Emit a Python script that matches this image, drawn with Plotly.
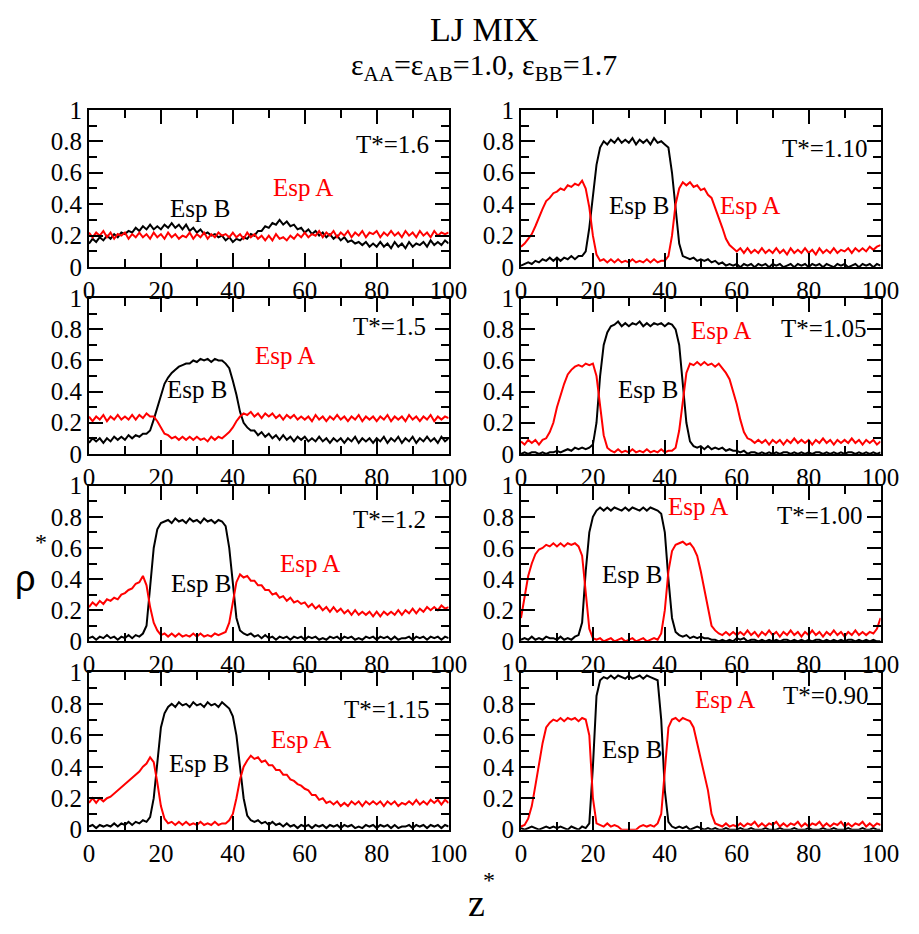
import plotly.graph_objects as go

# Density profiles rho*(z*) of species A and B in the LJ mixture, one panel per temperature
z = list(range(101))

temperatures = ["1.6", "1.5", "1.2", "1.15", "1.10", "1.05", "1.00", "0.90"]

rho_B_160 = [0.15,0.18,0.16,0.19,0.17,0.20,0.18,0.21,0.19,0.22,
             0.21,0.23,0.22,0.25,0.23,0.26,0.24,0.27,0.24,0.26,
             0.24,0.27,0.25,0.28,0.25,0.27,0.24,0.27,0.23,0.25,
             0.22,0.24,0.21,0.22,0.20,0.21,0.19,0.20,0.17,0.19,
             0.16,0.18,0.17,0.19,0.18,0.21,0.20,0.23,0.23,0.26,
             0.25,0.28,0.27,0.30,0.27,0.29,0.26,0.27,0.24,0.25,
             0.22,0.24,0.21,0.23,0.20,0.22,0.19,0.21,0.18,0.20,
             0.17,0.19,0.16,0.17,0.15,0.16,0.14,0.16,0.13,0.15,
             0.13,0.16,0.13,0.15,0.12,0.16,0.13,0.15,0.12,0.16,
             0.13,0.15,0.14,0.16,0.13,0.17,0.14,0.16,0.14,0.17,
             0.15]
rho_A_160 = [0.22,0.19,0.22,0.20,0.23,0.19,0.22,0.18,0.21,0.20,
             0.22,0.18,0.21,0.19,0.22,0.19,0.21,0.18,0.22,0.19,
             0.21,0.18,0.22,0.19,0.21,0.18,0.20,0.19,0.22,0.18,
             0.21,0.19,0.22,0.18,0.21,0.19,0.22,0.20,0.21,0.19,
             0.22,0.19,0.21,0.18,0.22,0.19,0.21,0.18,0.20,0.17,
             0.20,0.17,0.21,0.18,0.19,0.17,0.20,0.18,0.21,0.19,
             0.22,0.19,0.21,0.20,0.23,0.19,0.22,0.20,0.23,0.19,
             0.22,0.20,0.23,0.19,0.22,0.20,0.23,0.19,0.22,0.21,
             0.23,0.19,0.22,0.20,0.23,0.20,0.22,0.19,0.23,0.20,
             0.22,0.19,0.23,0.20,0.22,0.19,0.23,0.20,0.22,0.21,
             0.22]

rho_B_150 = [0.07,0.10,0.08,0.10,0.07,0.10,0.08,0.11,0.09,0.11,
             0.09,0.12,0.10,0.12,0.11,0.13,0.13,0.15,0.22,0.30,
             0.38,0.45,0.49,0.52,0.54,0.56,0.57,0.58,0.58,0.60,
             0.59,0.61,0.60,0.61,0.59,0.61,0.60,0.60,0.58,0.55,
             0.47,0.38,0.27,0.20,0.17,0.15,0.15,0.12,0.14,0.11,
             0.13,0.10,0.12,0.09,0.12,0.09,0.11,0.08,0.11,0.09,
             0.11,0.08,0.10,0.08,0.11,0.08,0.10,0.07,0.10,0.08,
             0.10,0.07,0.10,0.08,0.11,0.07,0.10,0.08,0.10,0.07,
             0.10,0.08,0.11,0.07,0.10,0.08,0.11,0.07,0.10,0.08,
             0.11,0.07,0.10,0.08,0.11,0.08,0.10,0.07,0.11,0.08,
             0.10]
rho_A_150 = [0.24,0.21,0.24,0.22,0.25,0.21,0.24,0.22,0.25,0.22,
             0.24,0.22,0.25,0.22,0.25,0.23,0.26,0.24,0.24,0.21,
             0.17,0.13,0.12,0.10,0.11,0.09,0.11,0.09,0.11,0.09,
             0.11,0.09,0.10,0.08,0.11,0.09,0.11,0.10,0.12,0.14,
             0.17,0.21,0.24,0.26,0.25,0.27,0.24,0.26,0.23,0.26,
             0.24,0.26,0.23,0.25,0.22,0.25,0.23,0.25,0.22,0.24,
             0.22,0.24,0.21,0.25,0.22,0.24,0.21,0.24,0.22,0.25,
             0.22,0.24,0.21,0.24,0.22,0.25,0.21,0.24,0.22,0.24,
             0.21,0.24,0.22,0.25,0.21,0.24,0.22,0.24,0.21,0.25,
             0.22,0.24,0.21,0.24,0.22,0.25,0.21,0.24,0.22,0.24,
             0.23]

rho_B_120 = [0.02,0.03,0.01,0.03,0.02,0.04,0.02,0.03,0.01,0.03,
             0.02,0.04,0.02,0.04,0.03,0.05,0.10,0.35,0.60,0.72,
             0.76,0.77,0.78,0.76,0.79,0.77,0.78,0.76,0.79,0.77,
             0.78,0.76,0.79,0.77,0.78,0.76,0.78,0.77,0.74,0.60,
             0.35,0.15,0.07,0.05,0.04,0.05,0.03,0.04,0.02,0.04,
             0.02,0.03,0.01,0.03,0.02,0.03,0.01,0.03,0.02,0.03,
             0.01,0.03,0.02,0.03,0.01,0.02,0.01,0.03,0.02,0.03,
             0.01,0.03,0.02,0.03,0.01,0.02,0.01,0.03,0.02,0.03,
             0.01,0.03,0.02,0.03,0.01,0.03,0.01,0.02,0.02,0.03,
             0.01,0.03,0.02,0.03,0.01,0.03,0.02,0.03,0.01,0.03,
             0.02]
rho_A_120 = [0.22,0.25,0.23,0.26,0.24,0.27,0.26,0.28,0.27,0.30,
             0.31,0.33,0.34,0.37,0.38,0.42,0.36,0.22,0.12,0.07,
             0.04,0.05,0.03,0.05,0.03,0.05,0.03,0.04,0.03,0.05,
             0.03,0.05,0.03,0.04,0.03,0.05,0.04,0.05,0.06,0.12,
             0.25,0.38,0.43,0.41,0.42,0.39,0.39,0.36,0.36,0.33,
             0.33,0.30,0.31,0.28,0.29,0.26,0.28,0.25,0.26,0.24,
             0.25,0.22,0.24,0.21,0.23,0.20,0.22,0.19,0.22,0.19,
             0.21,0.18,0.20,0.17,0.20,0.17,0.19,0.17,0.19,0.16,
             0.19,0.16,0.19,0.17,0.19,0.17,0.20,0.17,0.20,0.18,
             0.21,0.18,0.21,0.19,0.22,0.20,0.22,0.20,0.23,0.21,
             0.22]

rho_B_115 = [0.02,0.03,0.01,0.03,0.02,0.03,0.02,0.04,0.02,0.04,
             0.03,0.05,0.03,0.05,0.04,0.06,0.05,0.08,0.20,0.45,
             0.65,0.74,0.78,0.80,0.78,0.81,0.79,0.80,0.78,0.81,
             0.79,0.80,0.78,0.81,0.79,0.80,0.78,0.81,0.79,0.77,
             0.72,0.60,0.40,0.20,0.09,0.06,0.05,0.06,0.04,0.05,
             0.03,0.05,0.03,0.04,0.02,0.04,0.02,0.03,0.01,0.03,
             0.02,0.03,0.01,0.03,0.02,0.03,0.01,0.03,0.02,0.03,
             0.01,0.03,0.02,0.03,0.01,0.02,0.01,0.03,0.02,0.03,
             0.01,0.03,0.02,0.03,0.01,0.03,0.01,0.02,0.02,0.03,
             0.01,0.03,0.02,0.03,0.01,0.03,0.02,0.03,0.01,0.03,
             0.02]
rho_A_115 = [0.17,0.20,0.17,0.20,0.18,0.20,0.21,0.23,0.25,0.27,
             0.29,0.31,0.33,0.35,0.37,0.40,0.42,0.46,0.43,0.30,
             0.15,0.07,0.04,0.05,0.03,0.05,0.03,0.05,0.03,0.04,
             0.03,0.05,0.03,0.04,0.03,0.05,0.03,0.04,0.04,0.06,
             0.10,0.20,0.32,0.40,0.44,0.47,0.45,0.46,0.43,0.44,
             0.41,0.41,0.38,0.38,0.35,0.35,0.32,0.31,0.29,0.28,
             0.26,0.25,0.22,0.22,0.19,0.20,0.17,0.18,0.16,0.18,
             0.15,0.17,0.15,0.18,0.16,0.18,0.15,0.18,0.16,0.18,
             0.16,0.18,0.15,0.18,0.16,0.18,0.15,0.17,0.16,0.18,
             0.16,0.19,0.16,0.18,0.16,0.19,0.17,0.19,0.16,0.19,
             0.17]

rho_B_110 = [0.01,0.02,0.03,0.02,0.04,0.03,0.05,0.04,0.06,0.04,
             0.06,0.04,0.06,0.05,0.07,0.05,0.07,0.07,0.10,0.25,
             0.45,0.65,0.76,0.80,0.78,0.81,0.79,0.82,0.79,0.81,
             0.79,0.82,0.78,0.81,0.79,0.81,0.78,0.82,0.79,0.80,
             0.78,0.76,0.60,0.35,0.15,0.07,0.06,0.05,0.06,0.04,
             0.05,0.04,0.05,0.03,0.04,0.02,0.03,0.01,0.02,0.01,
             0.02,0.00,0.02,0.01,0.02,0.00,0.02,0.01,0.02,0.00,
             0.02,0.01,0.02,0.00,0.01,0.02,0.00,0.02,0.01,0.02,
             0.00,0.02,0.01,0.02,0.00,0.02,0.01,0.00,0.02,0.01,
             0.02,0.00,0.01,0.02,0.00,0.02,0.01,0.02,0.00,0.02,
             0.01]
rho_A_110 = [0.13,0.15,0.18,0.21,0.26,0.32,0.37,0.42,0.44,0.47,
             0.48,0.50,0.49,0.52,0.51,0.53,0.52,0.55,0.50,0.38,
             0.20,0.08,0.04,0.05,0.03,0.05,0.03,0.05,0.03,0.04,
             0.03,0.05,0.03,0.04,0.03,0.05,0.03,0.05,0.03,0.04,
             0.04,0.07,0.20,0.40,0.50,0.54,0.52,0.54,0.51,0.52,
             0.49,0.50,0.46,0.44,0.38,0.32,0.25,0.18,0.14,0.12,
             0.10,0.12,0.09,0.12,0.09,0.11,0.09,0.12,0.09,0.11,
             0.09,0.12,0.09,0.11,0.08,0.12,0.09,0.11,0.09,0.12,
             0.09,0.11,0.08,0.12,0.09,0.11,0.09,0.12,0.09,0.11,
             0.10,0.12,0.09,0.12,0.10,0.12,0.10,0.13,0.11,0.13,
             0.14]

rho_B_105 = [0.00,0.01,0.00,0.01,0.01,0.00,0.01,0.00,0.01,0.01,
             0.02,0.01,0.02,0.03,0.02,0.04,0.03,0.04,0.03,0.04,
             0.06,0.20,0.50,0.70,0.78,0.82,0.83,0.85,0.82,0.84,
             0.82,0.84,0.83,0.85,0.82,0.84,0.82,0.84,0.83,0.84,
             0.82,0.84,0.83,0.80,0.70,0.45,0.20,0.08,0.05,0.04,
             0.05,0.03,0.05,0.03,0.04,0.03,0.04,0.02,0.03,0.02,
             0.02,0.01,0.02,0.00,0.01,0.01,0.00,0.01,0.00,0.01,
             0.00,0.01,0.00,0.01,0.01,0.00,0.01,0.00,0.01,0.00,
             0.01,0.00,0.01,0.01,0.00,0.01,0.00,0.01,0.00,0.01,
             0.00,0.01,0.01,0.00,0.01,0.00,0.01,0.00,0.01,0.00,
             0.01]
rho_A_105 = [0.08,0.06,0.09,0.07,0.09,0.06,0.09,0.10,0.14,0.20,
             0.30,0.38,0.45,0.51,0.54,0.56,0.57,0.56,0.58,0.57,
             0.58,0.50,0.30,0.12,0.04,0.02,0.01,0.03,0.01,0.02,
             0.01,0.03,0.01,0.02,0.01,0.03,0.01,0.02,0.01,0.03,
             0.01,0.02,0.02,0.04,0.15,0.35,0.52,0.58,0.57,0.59,
             0.57,0.59,0.57,0.58,0.56,0.58,0.55,0.52,0.48,0.40,
             0.32,0.22,0.14,0.10,0.09,0.07,0.09,0.07,0.09,0.06,
             0.09,0.07,0.09,0.06,0.09,0.07,0.10,0.07,0.09,0.07,
             0.09,0.06,0.09,0.07,0.10,0.07,0.09,0.06,0.09,0.07,
             0.09,0.07,0.10,0.07,0.09,0.06,0.09,0.07,0.09,0.06,
             0.08]

rho_B_100 = [0.01,0.02,0.01,0.03,0.01,0.02,0.01,0.03,0.02,0.02,
             0.01,0.03,0.01,0.02,0.01,0.03,0.04,0.12,0.45,0.70,
             0.80,0.84,0.86,0.84,0.86,0.84,0.86,0.85,0.84,0.86,
             0.84,0.86,0.85,0.84,0.86,0.84,0.86,0.85,0.84,0.82,
             0.70,0.40,0.15,0.06,0.04,0.03,0.04,0.02,0.03,0.02,
             0.03,0.02,0.02,0.01,0.01,0.00,0.01,0.00,0.01,0.00,
             0.02,0.01,0.02,0.00,0.01,0.01,0.00,0.01,0.00,0.01,
             0.00,0.01,0.00,0.01,0.01,0.00,0.01,0.00,0.01,0.00,
             0.01,0.00,0.01,0.01,0.00,0.01,0.00,0.01,0.00,0.01,
             0.00,0.01,0.01,0.00,0.01,0.00,0.01,0.00,0.01,0.00,
             0.00]
rho_A_100 = [0.15,0.30,0.42,0.50,0.56,0.59,0.60,0.62,0.61,0.63,
             0.61,0.63,0.61,0.63,0.62,0.63,0.61,0.55,0.30,0.08,
             0.02,0.01,0.02,0.00,0.01,0.02,0.00,0.01,0.02,0.00,
             0.01,0.02,0.00,0.01,0.02,0.00,0.01,0.02,0.01,0.05,
             0.20,0.45,0.58,0.62,0.63,0.64,0.62,0.63,0.60,0.55,
             0.45,0.33,0.20,0.10,0.07,0.05,0.04,0.06,0.04,0.06,
             0.04,0.06,0.04,0.07,0.04,0.06,0.03,0.06,0.04,0.07,
             0.04,0.06,0.03,0.06,0.04,0.07,0.04,0.06,0.03,0.06,
             0.04,0.07,0.04,0.06,0.03,0.06,0.04,0.07,0.04,0.06,
             0.03,0.06,0.04,0.07,0.04,0.06,0.04,0.06,0.05,0.08,
             0.15]

rho_B_090 = [0.01,0.00,0.01,0.02,0.01,0.00,0.01,0.02,0.01,0.02,
             0.01,0.02,0.01,0.00,0.02,0.01,0.00,0.02,0.01,0.04,
             0.40,0.85,0.95,0.97,0.96,0.98,0.96,0.98,0.97,0.96,
             0.98,0.96,0.97,0.98,0.96,0.98,0.97,0.96,0.95,0.70,
             0.25,0.05,0.02,0.01,0.02,0.01,0.02,0.00,0.01,0.02,
             0.01,0.00,0.01,0.00,0.01,0.00,0.00,0.01,0.00,0.00,
             0.00,0.01,0.00,0.00,0.01,0.00,0.00,0.00,0.01,0.00,
             0.00,0.00,0.01,0.00,0.00,0.00,0.01,0.00,0.00,0.00,
             0.01,0.00,0.00,0.00,0.01,0.00,0.00,0.01,0.00,0.00,
             0.00,0.01,0.00,0.00,0.00,0.01,0.00,0.00,0.01,0.00,
             0.00]
rho_A_090 = [0.02,0.03,0.07,0.15,0.28,0.42,0.55,0.65,0.68,0.70,
             0.69,0.71,0.69,0.71,0.70,0.71,0.69,0.71,0.70,0.60,
             0.20,0.04,0.03,0.02,0.04,0.02,0.03,0.02,0.00,0.00,
             0.00,0.00,0.00,0.02,0.03,0.02,0.03,0.02,0.04,0.10,
             0.40,0.65,0.70,0.71,0.69,0.71,0.70,0.69,0.65,0.55,
             0.45,0.35,0.25,0.10,0.04,0.03,0.02,0.04,0.02,0.03,
             0.02,0.04,0.02,0.04,0.03,0.05,0.02,0.04,0.02,0.04,
             0.03,0.05,0.02,0.04,0.02,0.04,0.03,0.05,0.02,0.04,
             0.02,0.04,0.03,0.05,0.02,0.04,0.02,0.04,0.03,0.05,
             0.02,0.04,0.02,0.04,0.03,0.05,0.02,0.04,0.02,0.04,
             0.03]

profiles_A = [rho_A_160, rho_A_150, rho_A_120, rho_A_115,
              rho_A_110, rho_A_105, rho_A_100, rho_A_090]
profiles_B = [rho_B_160, rho_B_150, rho_B_120, rho_B_115,
              rho_B_110, rho_B_105, rho_B_100, rho_B_090]

# ---------------------------------------------------------------- layout
W, H = 919, 934
SERIF = "'Liberation Serif', 'Times New Roman', Times, serif"
SANS = "'Liberation Sans', Arial, Helvetica, sans-serif"

col_px = [(85.3, 455.0), (529.4, 899.0)]
row_px = [(99.7, 261.7), (293.7, 454.0), (486.8, 647.0), (679.0, 841.0)]

# panel k -> (column, row); left column first, top to bottom
grid = [(0, 0), (0, 1), (0, 2), (0, 3), (1, 0), (1, 1), (1, 2), (1, 3)]

# label positions in pixels: (T label), (Esp B), (Esp A)
label_px = [
    ((397, 135), (199, 201), (305, 180)),
    ((394, 323), (196, 388), (287, 353)),
    ((394, 522), (200, 587), (312, 567)),
    ((392, 717), (198, 773), (303, 748)),
    ((842, 140), (651, 198), (765, 198)),
    ((841, 325), (660, 388), (735, 327)),
    ((837, 517), (643, 578), (711, 508)),
    ((843, 703), (644, 758), (739, 707)),
]


def px(x, y):
    return x / W, 1 - y / H


fig = go.Figure()
layout = dict(
    width=W, height=H,
    margin=dict(l=0, r=0, t=0, b=0),
    paper_bgcolor="white", plot_bgcolor="white",
    showlegend=False,
    font=dict(family=SERIF, color="black"),
)
annotations = []

axis_common = dict(
    showgrid=False, zeroline=False,
    showline=True, linewidth=2, linecolor="black", mirror="allticks",
    ticks="inside", ticklen=14, tickwidth=1.5, tickcolor="black",
    tickfont=dict(family=SERIF, size=25, color="black"),
    fixedrange=True,
)

for k in range(8):
    c, r = grid[k]
    n = "" if k == 0 else str(k + 1)
    x0, x1 = col_px[c]
    ytop, ybot = row_px[r]
    layout["xaxis" + n] = dict(
        axis_common, domain=[x0 / W, x1 / W], range=[0, 100],
        tick0=0, dtick=20, anchor="y" + n,
        minor=dict(dtick=10, ticklen=8, tickwidth=1.5, tickcolor="black", ticks="inside"),
    )
    layout["yaxis" + n] = dict(
        axis_common, domain=[1 - ybot / H, 1 - ytop / H], range=[0, 1],
        tick0=0, dtick=0.2, anchor="x" + n,
        minor=dict(dtick=0.1, ticklen=8, tickwidth=1.5, tickcolor="black", ticks="inside"),
    )
    fig.add_trace(go.Scatter(x=z, y=profiles_B[k], mode="lines",
                             line=dict(color="black", width=2),
                             xaxis="x" + n, yaxis="y" + n, name="Esp B"))
    fig.add_trace(go.Scatter(x=z, y=profiles_A[k], mode="lines",
                             line=dict(color="red", width=2),
                             xaxis="x" + n, yaxis="y" + n, name="Esp A"))

    (tx, ty), (bx, by), (ax_, ay) = label_px[k]
    for (lx, ly), text, color in (((tx, ty), "T*=" + temperatures[k], "black"),
                                  ((bx, by), "Esp B", "black"),
                                  ((ax_, ay), "Esp A", "red")):
        xp, yp = px(lx, ly)
        annotations.append(dict(x=xp, y=yp, xref="paper", yref="paper",
                                text=text, showarrow=False,
                                xanchor="center", yanchor="middle",
                                font=dict(family=SERIF, size=25, color=color)))

# titles and axis labels
for (lx, ly), text, size, family in (
        ((492, 17), "LJ MIX", 34, SERIF),
        ((491, 56), "ε<sub>AA</sub>=ε<sub>AB</sub>=1.0, ε<sub>BB</sub>=1.7", 30, SERIF),
        ((20, 582), "ρ", 36, SANS),
        ((36, 545), "*", 24, SERIF),
        ((484, 916), "z", 38, SERIF),
        ((497, 893), "*", 24, SERIF)):
    xp, yp = px(lx, ly)
    annotations.append(dict(x=xp, y=yp, xref="paper", yref="paper",
                            text=text, showarrow=False,
                            xanchor="center", yanchor="middle",
                            font=dict(family=family, size=size, color="black")))

layout["annotations"] = annotations
fig.update_layout(**layout)
fig.write_html("out.html")
